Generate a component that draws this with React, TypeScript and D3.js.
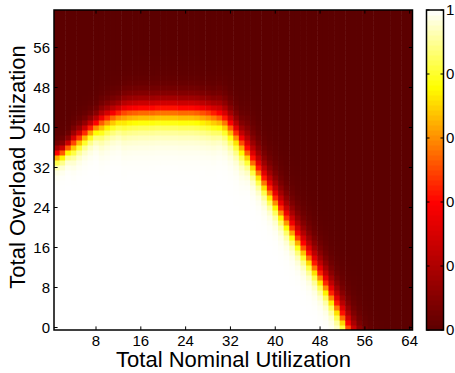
import React from "react";
import * as d3 from "d3";

// Heat-map columns (Total Nominal Utilization) and rows (Total Overload Utilization)
const xCols: number[] = d3.range(1, 65);
const yRows: number[] = d3.range(0, 64);

// per column: overload level where the value crosses ~0.5
const boundary: number[] = [
  34.6, 35.1, 36.1, 37.0, 37.9, 38.8, 39.7, 40.5, 41.2, 41.8,
  42.3, 42.7, 43.0, 43.2, 43.3, 43.4, 43.4, 43.4, 43.5, 43.5,
  43.5, 43.5, 43.4, 43.4, 43.4, 43.3, 43.1, 42.9, 42.6, 42.2,
  41.5, 40.2, 38.7, 37.0, 35.2, 33.3, 31.4, 29.4, 27.5, 25.6,
  23.6, 21.7, 19.8, 17.9, 16.1, 14.3, 12.4, 10.5, 8.6, 6.5,
  4.4, 2.3, 0.0, -2.2, -4.4, -6.6, -8.8, -11.0, -13.0, -15.0,
  -17.0, -19.0, -21.0, -23.0,
];
// per column: width of the transition below (toward 1) and above (toward 0)
const spreadBelow: number[] = [
  1.0, 1.0, 1.0, 1.3, 1.3, 1.3, 1.3, 1.3, 1.7, 1.7,
  1.7, 1.7, 2.0, 2.0, 2.0, 2.0, 2.0, 2.0, 2.0, 2.0,
  2.0, 2.0, 2.0, 2.0, 2.0, 2.0, 2.0, 2.0, 2.0, 1.8,
  1.8, 1.8, 1.8, 1.8, 1.5, 1.5, 1.5, 1.5, 1.5, 1.5,
  1.5, 1.5, 1.5, 1.5, 1.5, 1.5, 1.5, 1.5, 1.5, 1.5,
  1.5, 1.5, 1.5, 1.5, 1.5, 1.5, 1.5, 1.5, 1.5, 1.5,
  1.5, 1.5, 1.5, 1.5,
];
const spreadAbove: number[] = [
  0.9, 0.9, 0.9, 1.2, 1.2, 1.2, 1.2, 1.2, 1.4, 1.4,
  1.4, 1.4, 1.6, 1.6, 1.6, 1.6, 1.6, 1.6, 1.6, 1.6,
  1.6, 1.6, 1.6, 1.6, 1.6, 1.6, 1.6, 1.6, 1.6, 1.8,
  1.8, 1.8, 1.8, 1.8, 2.2, 2.2, 2.2, 2.2, 2.2, 2.2,
  2.2, 2.2, 2.2, 2.2, 2.2, 2.2, 2.2, 2.2, 2.2, 2.2,
  2.2, 2.2, 2.2, 2.2, 2.2, 2.2, 2.2, 2.2, 2.2, 2.2,
  2.2, 2.2, 2.2, 2.2,
];

const xTicks: number[] = [8, 16, 24, 32, 40, 48, 56, 64];
const yTicks: number[] = [0, 8, 16, 24, 32, 40, 48, 56];
const cbTicks: number[] = [0, 0.2, 0.4, 0.6, 0.8, 1];
const cbTickLabels: string[] = ["0", "0.2", "0.4", "0.6", "0.8", "1"];

const colorStops: number[] = [0, 0.4, 0.76, 1];
const colorRange: string[] = ["#5c0000", "#ff0000", "#ffff00", "#ffffff"];

const FONT = "'Liberation Sans', Arial, Helvetica, sans-serif";

function cellValue(ci: number, v: number): number {
  const b = boundary[ci];
  const d = v - b;
  const s = d < 0 ? spreadBelow[ci] : spreadAbove[ci];
  return 1 / (1 + Math.exp(d / s));
}

export default function App() {
  const W = 455;
  const H = 373;
  const x = d3.scaleLinear().domain([0.5, 64.5]).range([54, 412.5]);
  const y = d3.scaleLinear().domain([-0.5, 63.5]).range([330, 10]);
  const color = d3
    .scaleLinear<string>()
    .domain(colorStops)
    .range(colorRange)
    .interpolate(d3.interpolateRgb)
    .clamp(true);
  const cb = d3.scaleLinear().domain([0, 1]).range([330, 10]);
  const cbX0 = 426.5;
  const cbX1 = 443.5;
  const nColors = 64;
  const cbLevels = d3.range(nColors);

  const [x0, x1] = x.range();
  const [yb, yt] = y.range();
  const tick = 3.6;

  const cells: React.ReactNode[] = [];
  xCols.forEach((c, ci) => {
    yRows.forEach((v) => {
      const val = cellValue(ci, v);
      const rx = x(c - 0.5);
      const ry = y(v + 0.5);
      cells.push(
        <rect
          key={`${c}-${v}`}
          x={rx}
          y={ry}
          width={x(c + 0.5) - rx + 0.5}
          height={y(v - 0.5) - ry + 0.5}
          fill={color(val)}
        />
      );
    });
  });

  return (
    <div style={{ position: "fixed", left: 0, top: 0 }}>
      <svg width={W} height={H} style={{ display: "block", overflow: "hidden" }}>
        <rect x={0} y={0} width={W} height={H} fill="#ffffff" />
        <defs>
          <clipPath id="plotclip">
            <rect x={x0} y={yt} width={x1 - x0} height={yb - yt} />
          </clipPath>
        </defs>
        <g clipPath="url(#plotclip)">{cells}</g>

        {/* axes box */}
        <rect x={x0} y={yt} width={x1 - x0} height={yb - yt} fill="none" stroke="#000" strokeWidth={1.5} />
        {xTicks.map((t) => (
          <g key={`xt${t}`}>
            <line x1={x(t)} x2={x(t)} y1={yb} y2={yb - tick} stroke="#000" strokeWidth={1} />
            <line x1={x(t)} x2={x(t)} y1={yt} y2={yt + tick} stroke="#000" strokeWidth={1} />
            <text x={x(t)} y={346} textAnchor="middle" fontFamily={FONT} fontSize={15} fill="#000">
              {t}
            </text>
          </g>
        ))}
        {yTicks.map((t) => (
          <g key={`yt${t}`}>
            <line x1={x0} x2={x0 + tick} y1={y(t)} y2={y(t)} stroke="#000" strokeWidth={1} />
            <line x1={x1} x2={x1 - tick} y1={y(t)} y2={y(t)} stroke="#000" strokeWidth={1} />
            <text x={50} y={y(t) + 5.4} textAnchor="end" fontFamily={FONT} fontSize={15} fill="#000">
              {t}
            </text>
          </g>
        ))}
        <text x={233.5} y={366.5} textAnchor="middle" fontFamily={FONT} fontSize={22} fill="#000">
          Total Nominal Utilization
        </text>
        <text
          transform={`translate(25,167) rotate(-90)`}
          textAnchor="middle"
          fontFamily={FONT}
          fontSize={22}
          fill="#000"
        >
          Total Overload Utilization
        </text>

        {/* colorbar */}
        {cbLevels.map((i) => (
          <rect
            key={`cb${i}`}
            x={cbX0}
            y={cb((i + 1) / nColors)}
            width={cbX1 - cbX0}
            height={cb(i / nColors) - cb((i + 1) / nColors) + 0.5}
            fill={color((i + 0.5) / nColors)}
          />
        ))}
        <rect x={cbX0} y={10} width={cbX1 - cbX0} height={320} fill="none" stroke="#000" strokeWidth={1.5} />
        {cbTicks.map((t, i) => (
          <g key={`cbt${t}`}>
            <line x1={cbX0} x2={cbX0 + 3} y1={cb(t)} y2={cb(t)} stroke="#000" strokeWidth={1} />
            <line x1={cbX1} x2={cbX1 - 3} y1={cb(t)} y2={cb(t)} stroke="#000" strokeWidth={1} />
            <text x={446} y={cb(t) + 5.4} fontFamily={FONT} fontSize={15} fill="#000">
              {cbTickLabels[i]}
            </text>
          </g>
        ))}
      </svg>
    </div>
  );
}
